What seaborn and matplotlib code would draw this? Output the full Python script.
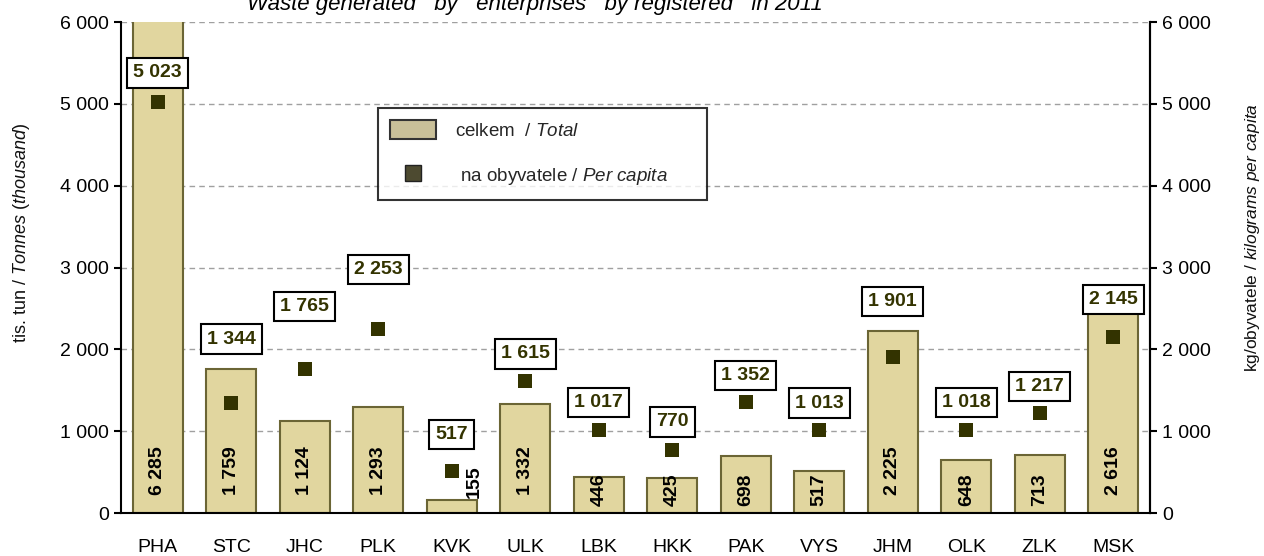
import numpy as np
import pandas as pd
import matplotlib
matplotlib.use("Agg")
import matplotlib.pyplot as plt
import seaborn as sns
from matplotlib.ticker import FuncFormatter, FixedLocator
from matplotlib.patches import Patch
from matplotlib.lines import Line2D

regions = ["PHA", "STC", "JHC", "PLK", "KVK", "ULK", "LBK", "HKK", "PAK", "VYS", "JHM", "OLK", "ZLK", "MSK"]
total_kt = [6285, 1759, 1124, 1293, 155, 1332, 446, 425, 698, 517, 2225, 648, 713, 2616]
per_capita_kg = [5023, 1344, 1765, 2253, 517, 1615, 1017, 770, 1352, 1013, 1901, 1018, 1217, 2145]
yticks = [0, 1000, 2000, 3000, 4000, 5000, 6000]

# label box offsets above markers (pixels, style only)
box_offsets = [29, 64, 62, 59, 36, 27, 27, 28, 27, 27, 56, 27, 27, 38]

sns.set_theme(style="white")
plt.rcParams["font.family"] = ["Liberation Sans", "DejaVu Sans"]
plt.rcParams["mathtext.fontset"] = "custom"
plt.rcParams["mathtext.rm"] = "Liberation Sans"
plt.rcParams["mathtext.it"] = "Liberation Sans:italic"
plt.rcParams["mathtext.default"] = "it"

BAR = "#e1d69f"
BAR_EDGE = "#6b6535"
MARK = "#333300"
FS = 14

def fmt(v):
    return f"{int(v):,}".replace(",", " ")

df = pd.DataFrame({"region": regions, "total": total_kt, "pc": per_capita_kg,
                   "pos": np.arange(len(regions))})

fig = plt.figure(figsize=(12.64, 5.56), dpi=100)
ax = fig.add_axes([121/1264, 1 - 513/556, (1150-121)/1264, (513-22)/556])

sns.barplot(data=df, x="region", y="total", ax=ax, color=BAR, saturation=1,
            width=0.68, edgecolor=BAR_EDGE, linewidth=1.5, zorder=2)
ax.set_xlim(-0.5, len(regions) - 0.5)
ax.set_ylim(0, 6000)
ax.yaxis.set_major_locator(FixedLocator(yticks))
ax.yaxis.set_major_formatter(FuncFormatter(lambda v, p: fmt(v)))
ax.grid(axis="y", color="#a0a0a0", linestyle=(0, (4, 3)), linewidth=1.0, zorder=0)
ax.set_axisbelow(True)
ax.set_xlabel("")
ax.set_ylabel("tis. tun / $Tonnes\\ (thousand)$", fontsize=13, color="#111111")
ax.yaxis.set_label_coords(-0.0865, 0.57)

for s in ["left", "bottom", "right"]:
    ax.spines[s].set_visible(True)
    ax.spines[s].set_color("black")
    ax.spines[s].set_linewidth(1.5)
ax.spines["top"].set_visible(False)

ax.tick_params(axis="x", which="major", length=0, labelsize=FS, pad=18.5, colors="black")
ax.set_xticks(np.arange(-0.5, len(regions), 1.0), minor=True)
ax.tick_params(axis="x", which="minor", length=5, width=1.5, direction="out", color="black")
ax.tick_params(axis="y", length=5, width=1.5, direction="out", labelsize=FS, colors="black", left=True)

# bar value labels
for i, v in enumerate(total_kt):
    txt = fmt(v)
    if v < 300:
        x, y = i + 0.31, 380
    elif len(txt) > 3:
        x, y = i, 520
    else:
        x, y = i, 280
    ax.text(x, y, txt, rotation=90, ha="center", va="center", rotation_mode="anchor",
            fontsize=FS, fontweight="bold", color="black", zorder=5)

ax2 = ax.twinx()
ax2.set_ylim(0, 6000)
ax2.yaxis.set_major_locator(FixedLocator(yticks))
ax2.yaxis.set_major_formatter(FuncFormatter(lambda v, p: fmt(v)))
sns.scatterplot(data=df, x="pos", y="pc", ax=ax2, marker="s", s=105, color=MARK,
                edgecolor=MARK, linewidth=0, zorder=4, legend=False)
ax2.set_xlim(-0.5, len(regions) - 0.5)
ax2.set_xlabel("")
ax2.set_ylabel("kg/obyvatele / $kilograms\\ per\\ capita$", fontsize=12.5, color="#111111")
ax2.yaxis.set_label_coords(1.0905, 0.56)
ax2.tick_params(axis="y", length=5, width=1.5, direction="out", labelsize=FS, colors="black", right=True)
for s in ax2.spines.values():
    s.set_visible(False)
ax2.spines["right"].set_visible(True)
ax2.spines["right"].set_color("black")
ax2.spines["right"].set_linewidth(1.5)
ax2.grid(False)

for i, v in enumerate(per_capita_kg):
    ax2.annotate(fmt(v), xy=(i, v), xytext=(0, box_offsets[i]), textcoords="offset pixels",
                 ha="center", va="center", fontsize=FS, fontweight="bold", color=MARK,
                 bbox=dict(boxstyle="square,pad=0.32", fc="white", ec="black", lw=1.5),
                 zorder=6, annotation_clip=False)

handles = [Patch(facecolor="#c9c099", edgecolor="#333333", linewidth=1.5),
           Line2D([], [], marker="s", linestyle="none", markersize=11.5,
                  markerfacecolor="#4d4a30", markeredgecolor="#222222", markeredgewidth=1)]
labels = ["celkem  / $Total$", " na obyvatele / $Per\\ capita$      "]
leg = fig.legend(handles, labels, loc="upper left", bbox_to_anchor=(378/1264, 1 - 108/556),
                 bbox_transform=fig.transFigure, frameon=True, fancybox=False, fontsize=13.5,
                 handlelength=2.45, handleheight=1.2, labelspacing=1.35, borderpad=0.65,
                 handletextpad=1.0, borderaxespad=0)
leg.get_frame().set_edgecolor("black")
leg.get_frame().set_linewidth(1.5)
leg.set_zorder(10)

fig.text(535/1264, 1 - 10/556, "Waste generated   by   enterprises   by registered   in 2011",
         ha="center", va="baseline", fontsize=16, style="italic", color="black")

fig.savefig("out.png", dpi=100)
